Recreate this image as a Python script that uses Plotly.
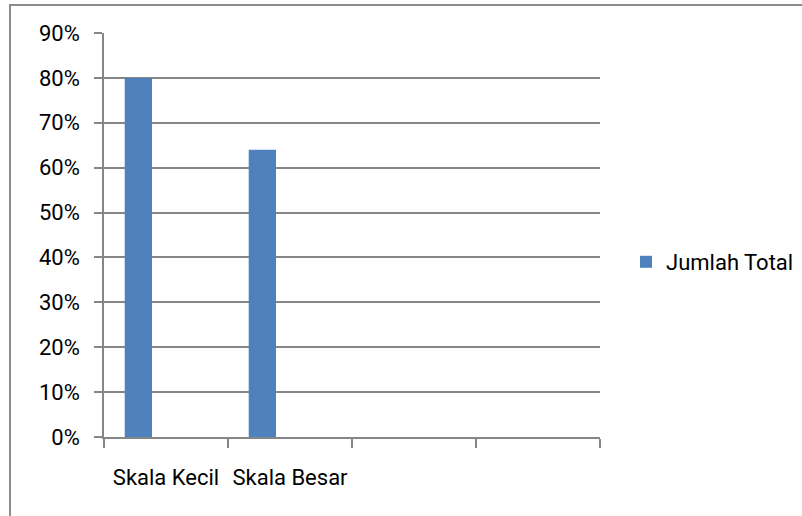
import plotly.graph_objects as go

categories = ["Skala Kecil", "Skala Besar", "", ""]
series_name = "Jumlah Total"
values = [0.80, 0.64]
y_ticks = [0, 0.1, 0.2, 0.3, 0.4, 0.5, 0.6, 0.7, 0.8, 0.9]

W, H = 802, 516
ml, mr, mt, mb = 104, 202, 33, 79
pw, ph = W - ml - mr, H - mt - mb

centers = [i + 0.5 for i in range(len(categories))]

fig = go.Figure()
fig.add_trace(go.Bar(
    x=centers[:len(values)], y=values, name=series_name,
    marker=dict(color="#4F81BD", line=dict(width=0)),
    width=0.22, offset=-0.333, showlegend=True,
))

grid = "#868686"
fig.update_layout(
    width=W, height=H,
    margin=dict(l=ml, r=mr, t=mt, b=mb, pad=0, autoexpand=False),
    paper_bgcolor="white", plot_bgcolor="white",
    font=dict(family="Roboto", size=22, color="#000000"),
    showlegend=True,
    legend=dict(x=(626 - ml) / pw, xanchor="left", y=(437 - 262) / ph, yanchor="middle",
                font=dict(family="Roboto", size=22, color="#000"), bgcolor="rgba(0,0,0,0)"),
    xaxis=dict(
        range=[0, len(categories)], showgrid=False, zeroline=False,
        tickmode="array", tickvals=centers, ticktext=categories,
        ticks="", showline=True, linecolor=grid, linewidth=1.5,
        ticklabelstandoff=20,
        minor=dict(tickmode="linear", tick0=0, dtick=1, ticks="outside", ticklen=9,
                   tickcolor=grid, tickwidth=1.5, showgrid=False),
    ),
    yaxis=dict(
        range=[0, 0.9], tickmode="array", tickvals=y_ticks, tickformat=".0%",
        showgrid=True, gridcolor=grid, gridwidth=1.6, zeroline=False,
        showline=True, linecolor=grid, linewidth=1.6,
        ticks="outside", ticklen=8, tickcolor=grid, tickwidth=1.6,
        ticklabelstandoff=10,
    ),
    shapes=[dict(type="rect", xref="paper", yref="paper",
                 x0=(10 - ml) / pw, x1=(812 - ml) / pw,
                 y0=(437 - 526) / ph, y1=(437 - 5) / ph,
                 line=dict(color="#8c8c8c", width=2), fillcolor="rgba(0,0,0,0)", layer="below")],
)

fig.write_html("out.html")
